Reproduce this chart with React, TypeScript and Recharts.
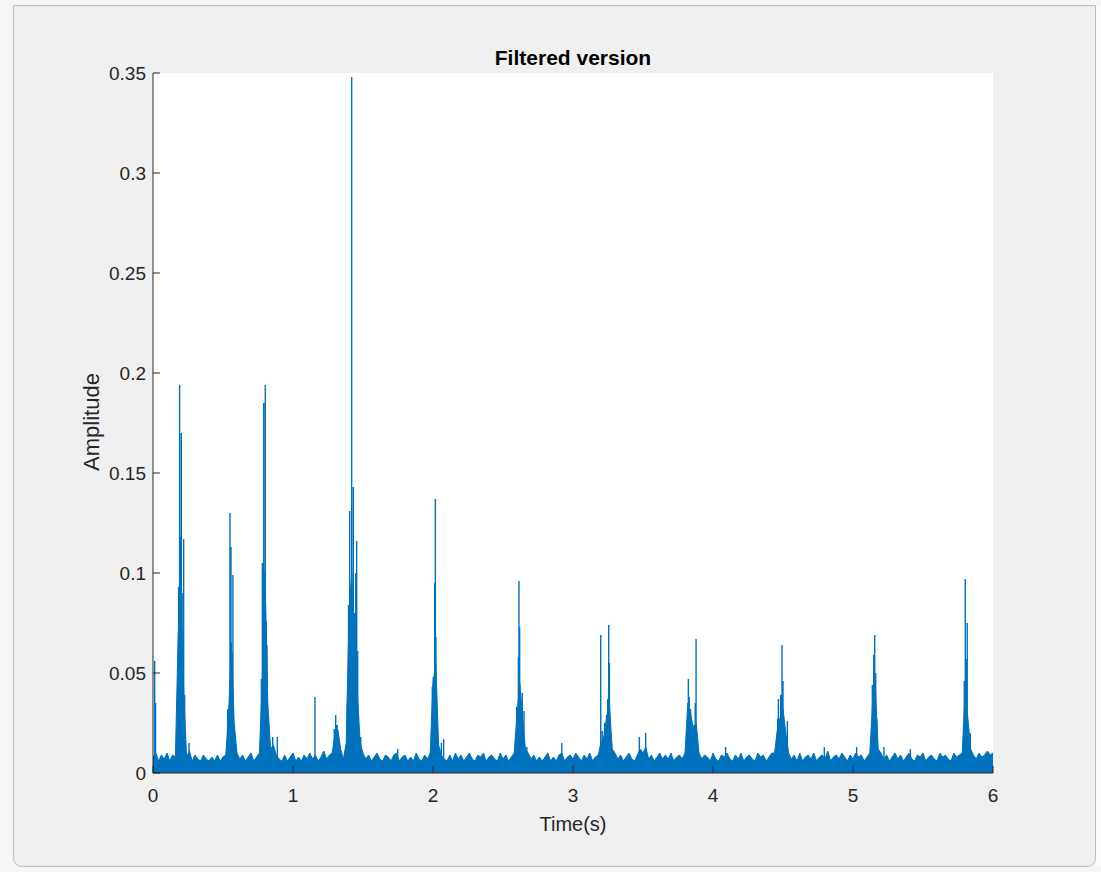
import React from "react";
import { ComposedChart, Area, Line, XAxis, YAxis, CartesianGrid } from "recharts";

const BLUE = "#0072BD";
const AXIS = "#262626";
const FONT = "'Liberation Sans', Arial, Helvetica, sans-serif";

const xTicks = [0, 1, 2, 3, 4, 5, 6];
const yTicks = [0, 0.05, 0.1, 0.15, 0.2, 0.25, 0.3, 0.35];

// noise floor envelope, one value every 0.02 s, in units of 1e-3
const FLOOR_STEP = 0.02;
const floorMilli = [
  8, 10, 6, 9, 7, 10, 6, 9, 8, 70, 85, 40, 8, 11, 6, 9, 7, 6, 9, 7, 6, 8, 6, 9, 6,
  8, 9, 30, 65, 25, 10, 7, 9, 6, 8, 10, 6, 8, 10, 45, 100, 35, 12, 14, 9, 7, 6, 9, 6, 8,
  10, 6, 8, 6, 9, 7, 10, 7, 9, 6, 8, 11, 7, 9, 10, 20, 22, 12, 7, 15, 80, 100, 60, 40, 15,
  10, 7, 9, 6, 8, 10, 7, 6, 9, 8, 6, 9, 10, 6, 8, 9, 6, 8, 6, 10, 7, 6, 9, 7, 10,
  45, 55, 14, 9, 7, 6, 9, 6, 10, 7, 9, 6, 8, 10, 7, 6, 9, 8, 10, 6, 8, 9, 7, 6, 10,
  7, 9, 6, 8, 10, 30, 45, 28, 12, 10, 7, 9, 6, 8, 6, 8, 10, 6, 8, 6, 9, 10, 6, 8, 9,
  7, 10, 8, 6, 9, 7, 10, 6, 8, 9, 15, 18, 28, 35, 12, 10, 7, 9, 6, 8, 10, 7, 6, 9, 12,
  10, 13, 7, 9, 6, 8, 10, 7, 9, 7, 10, 6, 8, 9, 7, 10, 35, 30, 22, 25, 10, 7, 9, 8, 6,
  10, 7, 6, 9, 8, 10, 7, 6, 9, 7, 10, 6, 8, 9, 7, 6, 10, 8, 9, 6, 8, 10, 10, 22, 28,
  32, 20, 10, 7, 9, 6, 10, 6, 8, 9, 7, 10, 6, 8, 9, 7, 11, 6, 8, 9, 7, 10, 8, 6, 9,
  7, 10, 8, 9, 6, 8, 10, 35, 42, 12, 10, 7, 9, 6, 8, 10, 7, 9, 6, 8, 10, 7, 6, 9, 8,
  10, 6, 8, 9, 7, 6, 10, 8, 9, 7, 6, 10, 8, 9, 10, 40, 28, 12, 9, 7, 10, 8, 9, 11, 9,
  10,
];

// individual spikes: [time (s), amplitude]
const spikes: [number, number][] = [
  [0.012, 0.056], [0.018, 0.035],
  [0.183, 0.093], [0.19, 0.194], [0.197, 0.118], [0.202, 0.17], [0.208, 0.09], [0.219, 0.117], [0.226, 0.039], [0.257, 0.015],
  [0.533, 0.032], [0.55, 0.13], [0.557, 0.113], [0.564, 0.06], [0.571, 0.099],
  [0.774, 0.047], [0.781, 0.105], [0.791, 0.185], [0.802, 0.194], [0.809, 0.076], [0.814, 0.064], [0.824, 0.027], [0.855, 0.018], [0.888, 0.018],
  [1.157, 0.038],
  [1.295, 0.022], [1.305, 0.029], [1.315, 0.024], [1.325, 0.016],
  [1.388, 0.035], [1.397, 0.084], [1.405, 0.131], [1.419, 0.348], [1.431, 0.143], [1.438, 0.08], [1.448, 0.1], [1.455, 0.116], [1.462, 0.061], [1.484, 0.018],
  [1.748, 0.012],
  [1.995, 0.043], [2.002, 0.048], [2.012, 0.095], [2.017, 0.137], [2.021, 0.068], [2.06, 0.015], [2.076, 0.017],
  [2.598, 0.033], [2.61, 0.058], [2.614, 0.096], [2.619, 0.073], [2.638, 0.04], [2.65, 0.031], [2.67, 0.013],
  [2.92, 0.015],
  [3.198, 0.069], [3.21, 0.021], [3.226, 0.025], [3.24, 0.029], [3.248, 0.037], [3.255, 0.074], [3.26, 0.055], [3.275, 0.015],
  [3.474, 0.018], [3.49, 0.011], [3.519, 0.02],
  [3.818, 0.018], [3.824, 0.047], [3.83, 0.038], [3.84, 0.032], [3.864, 0.024], [3.873, 0.035], [3.879, 0.067],
  [4.09, 0.013],
  [4.462, 0.027], [4.467, 0.037], [4.483, 0.039], [4.493, 0.064], [4.5, 0.046], [4.531, 0.026],
  [4.795, 0.013], [5.026, 0.013],
  [5.138, 0.044], [5.148, 0.059], [5.155, 0.069], [5.162, 0.05], [5.17, 0.027],
  [5.221, 0.013], [5.41, 0.012],
  [5.795, 0.046], [5.802, 0.097], [5.809, 0.057], [5.816, 0.075], [5.838, 0.02],
];

type Row = { t: number; floor?: number; spike?: number };

function buildRows(): Row[] {
  const rows: Row[] = floorMilli.map((v, i) => ({ t: +(i * FLOOR_STEP).toFixed(3), floor: v / 1000 }));
  spikes.forEach(([t, v]) => {
    rows.push({ t, spike: 0 }, { t, spike: v }, { t, spike: 0 });
  });
  return rows.sort((a, b) => a.t - b.t);
}

const rows = buildRows();

const fmtY = (v: number) => String(Number(v.toFixed(2)));

export default function App() {
  return (
    <div style={{ position: "fixed", left: 0, top: 0, width: 1101, height: 872, background: "#f6f6f6", overflow: "hidden", fontFamily: FONT }}>
      <div
        style={{
          position: "absolute",
          left: 13,
          top: 5,
          width: 1081,
          height: 860,
          background: "#f0f0f0",
          border: "1px solid #bcbcbc",
          borderRadius: "0 0 9px 9px",
        }}
      />
      <div style={{ position: "absolute", left: 1096, top: 6, width: 5, height: 860, background: "#fbfbfb" }} />
      <div style={{ position: "absolute", left: 0, top: 0 }}>
        <ComposedChart width={1101} height={872} data={rows} margin={{ top: 73, right: 108, bottom: 59, left: 73 }}>
          <CartesianGrid fill="#ffffff" stroke="none" horizontal={false} vertical={false} />
          <XAxis
            dataKey="t"
            type="number"
            domain={[0, 6]}
            ticks={xTicks}
            height={40}
            stroke={AXIS}
            tickSize={-7}
            tickMargin={23}
            tick={{ fill: AXIS, fontSize: 19, fontFamily: FONT }}
            allowDataOverflow
          />
          <YAxis
            type="number"
            domain={[0, 0.35]}
            ticks={yTicks}
            width={80}
            stroke={AXIS}
            tickSize={-7}
            tickMargin={14}
            tickFormatter={fmtY}
            tick={{ fill: AXIS, fontSize: 19, fontFamily: FONT }}
            allowDataOverflow
          />
          <Area
            type="linear"
            dataKey="floor"
            stroke={BLUE}
            strokeWidth={1}
            fill={BLUE}
            fillOpacity={1}
            connectNulls
            dot={false}
            activeDot={false}
            isAnimationActive={false}
          />
          <Line
            type="linear"
            dataKey="spike"
            stroke={BLUE}
            strokeWidth={1.4}
            connectNulls
            dot={false}
            activeDot={false}
            isAnimationActive={false}
          />
        </ComposedChart>
      </div>
      <svg width={1101} height={872} style={{ position: "absolute", left: 0, top: 0, pointerEvents: "none" }}>
        <text x={573} y={65} textAnchor="middle" fontSize={21} fontWeight="bold" fill="#000" fontFamily={FONT}>
          Filtered version
        </text>
        <text x={573} y={831} textAnchor="middle" fontSize={20} fill={AXIS} fontFamily={FONT}>
          Time(s)
        </text>
        <text transform="translate(99,422) rotate(-90)" textAnchor="middle" fontSize={22} fill={AXIS} fontFamily={FONT}>
          Amplitude
        </text>
      </svg>
    </div>
  );
}
